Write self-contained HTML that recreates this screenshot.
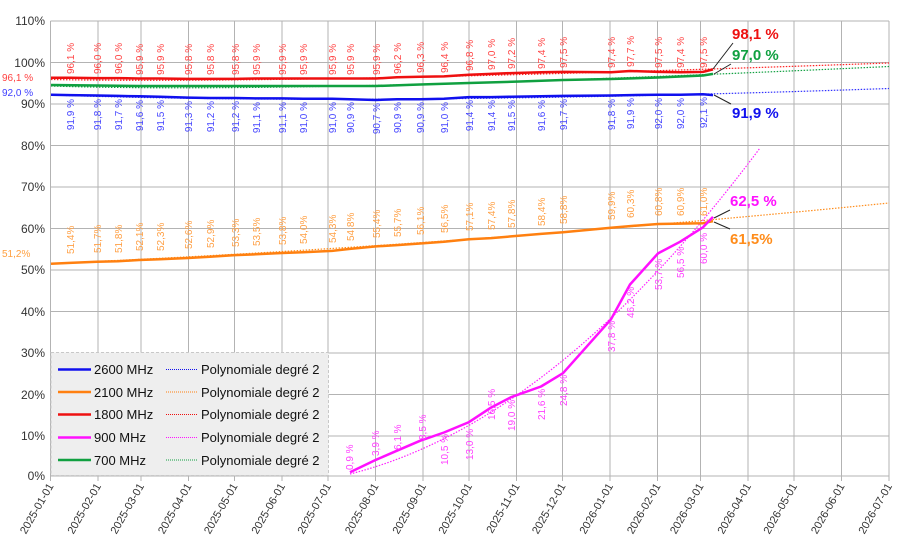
<!DOCTYPE html>
<html><head><meta charset="utf-8"><style>
body{margin:0;background:#fff}
svg{display:block;font-family:"Liberation Sans",sans-serif}
</style></head><body>
<svg width="914" height="547" viewBox="0 0 914 547" xmlns="http://www.w3.org/2000/svg">
<rect width="914" height="547" fill="#fff"/>
<!-- grid -->
<g stroke="#b3b3b3" stroke-width="1">
<line x1="50.5" y1="21" x2="889" y2="21"/><line x1="50.5" y1="62.5" x2="889" y2="62.5"/><line x1="50.5" y1="104" x2="889" y2="104"/><line x1="50.5" y1="145.5" x2="889" y2="145.5"/><line x1="50.5" y1="187" x2="889" y2="187"/><line x1="50.5" y1="228.5" x2="889" y2="228.5"/><line x1="50.5" y1="270" x2="889" y2="270"/><line x1="50.5" y1="311.5" x2="889" y2="311.5"/><line x1="50.5" y1="353" x2="889" y2="353"/><line x1="50.5" y1="394.5" x2="889" y2="394.5"/><line x1="50.5" y1="436" x2="889" y2="436"/><line x1="50.5" y1="476" x2="889" y2="476"/>
<line x1="50.5" y1="21" x2="50.5" y2="481"/><line x1="98" y1="21" x2="98" y2="481"/><line x1="141" y1="21" x2="141" y2="481"/><line x1="188.5" y1="21" x2="188.5" y2="481"/><line x1="234.5" y1="21" x2="234.5" y2="481"/><line x1="282" y1="21" x2="282" y2="481"/><line x1="328" y1="21" x2="328" y2="481"/><line x1="375.5" y1="21" x2="375.5" y2="481"/><line x1="423" y1="21" x2="423" y2="481"/><line x1="469" y1="21" x2="469" y2="481"/><line x1="516.5" y1="21" x2="516.5" y2="481"/><line x1="562.5" y1="21" x2="562.5" y2="481"/><line x1="610" y1="21" x2="610" y2="481"/><line x1="657.5" y1="21" x2="657.5" y2="481"/><line x1="700.5" y1="21" x2="700.5" y2="481"/><line x1="748" y1="21" x2="748" y2="481"/><line x1="794" y1="21" x2="794" y2="481"/><line x1="841.5" y1="21" x2="841.5" y2="481"/><line x1="889" y1="21" x2="889" y2="481"/>
</g>
<!-- y labels -->
<g font-size="12" fill="#333" text-anchor="end">
<text x="45" y="25">110%</text><text x="45" y="67">100%</text><text x="45" y="108">90%</text><text x="45" y="150">80%</text><text x="45" y="191">70%</text><text x="45" y="233">60%</text><text x="45" y="274">50%</text><text x="45" y="316">40%</text><text x="45" y="357">30%</text><text x="45" y="399">20%</text><text x="45" y="440">10%</text><text x="45" y="480">0%</text>
</g>
<!-- x labels -->
<g font-size="11" fill="#333" text-anchor="end">
<text transform="translate(54,486) rotate(-60)">2025-01-01</text>
<text transform="translate(101.5,486) rotate(-60)">2025-02-01</text>
<text transform="translate(144.5,486) rotate(-60)">2025-03-01</text>
<text transform="translate(192,486) rotate(-60)">2025-04-01</text>
<text transform="translate(238,486) rotate(-60)">2025-05-01</text>
<text transform="translate(285.5,486) rotate(-60)">2025-06-01</text>
<text transform="translate(331.5,486) rotate(-60)">2025-07-01</text>
<text transform="translate(379,486) rotate(-60)">2025-08-01</text>
<text transform="translate(426.5,486) rotate(-60)">2025-09-01</text>
<text transform="translate(472.5,486) rotate(-60)">2025-10-01</text>
<text transform="translate(520,486) rotate(-60)">2025-11-01</text>
<text transform="translate(566,486) rotate(-60)">2025-12-01</text>
<text transform="translate(613.5,486) rotate(-60)">2026-01-01</text>
<text transform="translate(661,486) rotate(-60)">2026-02-01</text>
<text transform="translate(704,486) rotate(-60)">2026-03-01</text>
<text transform="translate(751.5,486) rotate(-60)">2026-04-01</text>
<text transform="translate(797.5,486) rotate(-60)">2026-05-01</text>
<text transform="translate(845,486) rotate(-60)">2026-06-01</text>
<text transform="translate(892.5,486) rotate(-60)">2026-07-01</text>
</g>
<!-- trend lines -->
<g fill="none" stroke-width="1.2" stroke-dasharray="1.5 1.5">
<path d="M51,95 Q380,106 889,88.5" stroke="#3030ff"/>
<path d="M51,79.5 Q300,84 889,63" stroke="#ff2020"/>
<path d="M51,86 Q300,94 889,66.5" stroke="#10a040"/>
<path d="M51,263.5 Q470,245 889,203" stroke="#ff8c1a"/>
<path d="M350,474 Q555,422.4 760,148" stroke="#ff20ff"/>
</g>
<!-- series -->
<g fill="none" stroke-width="2.5" stroke-linejoin="round">
<polyline stroke="#1010ee" points="51,94.7 70,95.1 97,95.5 118,95.9 139,96.3 160,96.7 188,97.6 210,98 235,98 256,98.4 282,98.4 303,98.8 332,98.8 350,99.2 376,100 397,99.2 420,99.2 444,98.8 469,97.1 491,97.1 511,96.7 541,96.3 563,95.9 611,95.5 630,95.1 658,94.7 680,94.7 703,94.2 713,95.1"/>
<polyline stroke="#ee1010" points="51,77.7 70,77.7 97,78.1 118,78.1 139,78.5 160,78.5 188,78.9 210,78.9 235,78.9 256,78.5 282,78.5 303,78.5 332,78.5 350,78.5 376,78.5 397,77.3 420,76.8 444,76.4 469,74.8 491,73.9 511,73.1 541,72.3 563,71.9 611,72.3 630,71 658,71.9 680,72.3 703,71.9 713,69.4"/>
<polyline stroke="#10a040" points="51,85 97,85.5 139,86 330,86 376,86 420,84.5 469,83 520,81.5 563,80 611,79 658,77.5 703,75.5 713,73.9"/>
<polyline stroke="#ff8010" points="51,263.8 70,262.9 97,261.7 118,261.3 139,260 160,259.2 188,258 210,256.7 235,255.1 256,254.3 282,253 303,252.2 332,250.9 350,248.9 376,246.4 397,245.1 420,243.5 444,241.8 469,239.3 491,238.1 511,236.4 541,233.9 563,232.3 611,227.7 630,226.1 658,224 680,223.6 703,223.2 713,221.1"/>
<polyline stroke="#ff10ff" points="350,472.3 376,459.8 397,450.7 420,440.8 444,432.5 469,422.1 491,407.6 511,397.2 541,386.5 563,373.2 611,319.3 630,284.5 658,253.4 680,241.8 703,227.3 713,216.9"/>
</g>
<!-- callouts -->
<g stroke="#222" stroke-width="1">
<line x1="713" y1="69" x2="733" y2="43"/><line x1="714" y1="74" x2="731" y2="64"/><line x1="714" y1="95" x2="731" y2="104"/><line x1="714" y1="218" x2="730" y2="210"/><line x1="714" y1="222" x2="730" y2="229"/>
</g>
<g font-size="15" font-weight="bold">
<text x="732" y="39" fill="#ee1010">98,1 %</text>
<text x="732" y="60" fill="#10a040">97,0 %</text>
<text x="732" y="118" fill="#1010ee">91,9 %</text>
<text x="730" y="206" fill="#ff10ff">62,5 %</text>
<text x="730" y="244" fill="#ff8c1a">61,5%</text>
</g>
<g font-size="10">
<text x="2" y="81" fill="#ff4040">96,1 %</text>
<text x="2" y="96" fill="#4040ff">92,0 %</text>
<text x="2" y="257" fill="#ffa040">51,2%</text>
</g>
<!-- red labels -->
<g font-size="10" fill="#ff4545">
<text transform="translate(74,74) rotate(-90)">96,1 %</text>
<text transform="translate(101,74) rotate(-90)">96,0 %</text>
<text transform="translate(122,74) rotate(-90)">96,0 %</text>
<text transform="translate(143,75) rotate(-90)">95,9 %</text>
<text transform="translate(164,75) rotate(-90)">95,9 %</text>
<text transform="translate(192,75) rotate(-90)">95,8 %</text>
<text transform="translate(214,75) rotate(-90)">95,8 %</text>
<text transform="translate(239,75) rotate(-90)">95,8 %</text>
<text transform="translate(260,75) rotate(-90)">95,9 %</text>
<text transform="translate(286,75) rotate(-90)">95,9 %</text>
<text transform="translate(307,75) rotate(-90)">95,9 %</text>
<text transform="translate(336,75) rotate(-90)">95,9 %</text>
<text transform="translate(354,75) rotate(-90)">95,9 %</text>
<text transform="translate(380,75) rotate(-90)">95,9 %</text>
<text transform="translate(401,74) rotate(-90)">96,2 %</text>
<text transform="translate(424,73) rotate(-90)">96,3 %</text>
<text transform="translate(448,73) rotate(-90)">96,4 %</text>
<text transform="translate(473,71) rotate(-90)">96,8 %</text>
<text transform="translate(495,70) rotate(-90)">97,0 %</text>
<text transform="translate(515,69) rotate(-90)">97,2 %</text>
<text transform="translate(545,69) rotate(-90)">97,4 %</text>
<text transform="translate(567,68) rotate(-90)">97,5 %</text>
<text transform="translate(615,68) rotate(-90)">97,4 %</text>
<text transform="translate(634,67) rotate(-90)">97,7 %</text>
<text transform="translate(662,68) rotate(-90)">97,5 %</text>
<text transform="translate(684,68) rotate(-90)">97,4 %</text>
<text transform="translate(707,68) rotate(-90)">97,5 %</text>
</g>
<!-- blue labels -->
<g font-size="10" fill="#4545ff" text-anchor="end">
<text transform="translate(74,99) rotate(-90)">91,9 %</text>
<text transform="translate(101,99) rotate(-90)">91,8 %</text>
<text transform="translate(122,99) rotate(-90)">91,7 %</text>
<text transform="translate(143,100) rotate(-90)">91,6 %</text>
<text transform="translate(164,100) rotate(-90)">91,5 %</text>
<text transform="translate(192,101) rotate(-90)">91,3 %</text>
<text transform="translate(214,101) rotate(-90)">91,2 %</text>
<text transform="translate(239,101) rotate(-90)">91,2 %</text>
<text transform="translate(260,102) rotate(-90)">91,1 %</text>
<text transform="translate(286,102) rotate(-90)">91,1 %</text>
<text transform="translate(307,102) rotate(-90)">91,0 %</text>
<text transform="translate(336,102) rotate(-90)">91,0 %</text>
<text transform="translate(354,102) rotate(-90)">90,9 %</text>
<text transform="translate(380,103) rotate(-90)">90,7 %</text>
<text transform="translate(401,102) rotate(-90)">90,9 %</text>
<text transform="translate(424,102) rotate(-90)">90,9 %</text>
<text transform="translate(448,102) rotate(-90)">91,0 %</text>
<text transform="translate(473,100) rotate(-90)">91,4 %</text>
<text transform="translate(495,100) rotate(-90)">91,4 %</text>
<text transform="translate(515,100) rotate(-90)">91,5 %</text>
<text transform="translate(545,100) rotate(-90)">91,6 %</text>
<text transform="translate(567,99) rotate(-90)">91,7 %</text>
<text transform="translate(615,99) rotate(-90)">91,8 %</text>
<text transform="translate(634,98) rotate(-90)">91,9 %</text>
<text transform="translate(662,98) rotate(-90)">92,0 %</text>
<text transform="translate(684,98) rotate(-90)">92,0 %</text>
<text transform="translate(707,97) rotate(-90)">92,1 %</text>
</g>
<!-- orange labels -->
<g font-size="10" fill="#ffa045">
<text transform="translate(74,254) rotate(-90)">51,4%</text>
<text transform="translate(101,253) rotate(-90)">51,7%</text>
<text transform="translate(122,253) rotate(-90)">51,8%</text>
<text transform="translate(143,251) rotate(-90)">52,1%</text>
<text transform="translate(164,251) rotate(-90)">52,3%</text>
<text transform="translate(192,249) rotate(-90)">52,6%</text>
<text transform="translate(214,248) rotate(-90)">52,9%</text>
<text transform="translate(239,247) rotate(-90)">53,3%</text>
<text transform="translate(260,246) rotate(-90)">53,5%</text>
<text transform="translate(286,245) rotate(-90)">53,8%</text>
<text transform="translate(307,244) rotate(-90)">54,0%</text>
<text transform="translate(336,243) rotate(-90)">54,3%</text>
<text transform="translate(354,241) rotate(-90)">54,8%</text>
<text transform="translate(380,238) rotate(-90)">55,4%</text>
<text transform="translate(401,237) rotate(-90)">55,7%</text>
<text transform="translate(424,235) rotate(-90)">56,1%</text>
<text transform="translate(448,233) rotate(-90)">56,5%</text>
<text transform="translate(473,231) rotate(-90)">57,1%</text>
<text transform="translate(495,230) rotate(-90)">57,4%</text>
<text transform="translate(515,228) rotate(-90)">57,8%</text>
<text transform="translate(545,226) rotate(-90)">58,4%</text>
<text transform="translate(567,224) rotate(-90)">58,8%</text>
<text transform="translate(615,220) rotate(-90)">59,9%</text>
<text transform="translate(634,218) rotate(-90)">60,3%</text>
<text transform="translate(662,216) rotate(-90)">60,8%</text>
<text transform="translate(684,216) rotate(-90)">60,9%</text>
<text transform="translate(707,216) rotate(-90)">61,0%</text>
</g>
<!-- magenta labels -->
<g font-size="10" fill="#ff40ff">
<text transform="translate(353,470) rotate(-90)">0,9 %</text>
<text transform="translate(379,456) rotate(-90)">3,9 %</text>
<text transform="translate(401,450) rotate(-90)">6,1 %</text>
<text transform="translate(426,440) rotate(-90)">8,5 %</text>
<text transform="translate(448,465) rotate(-90)">10,5 %</text>
<text transform="translate(473,460) rotate(-90)">13,0 %</text>
<text transform="translate(495,420) rotate(-90)">16,5 %</text>
<text transform="translate(515,431) rotate(-90)">19,0 %</text>
<text transform="translate(545,420) rotate(-90)">21,6 %</text>
<text transform="translate(567,406) rotate(-90)">24,8 %</text>
<text transform="translate(615,352) rotate(-90)">37,8 %</text>
<text transform="translate(634,318) rotate(-90)">46,2 %</text>
<text transform="translate(662,290) rotate(-90)">53,7 %</text>
<text transform="translate(684,278) rotate(-90)">56,5 %</text>
<text transform="translate(707,264) rotate(-90)">60,0 %</text>
</g>
<!-- legend -->
<rect x="51" y="352.5" width="277.5" height="123" fill="#eeeeee" stroke="#c8c8c8" stroke-dasharray="3 2"/>
<g stroke-width="2.5">
<line x1="58" y1="369.5" x2="91" y2="369.5" stroke="#1010ee"/>
<line x1="58" y1="392" x2="91" y2="392" stroke="#ff8010"/>
<line x1="58" y1="414.5" x2="91" y2="414.5" stroke="#ee1010"/>
<line x1="58" y1="437.5" x2="91" y2="437.5" stroke="#ff10ff"/>
<line x1="58" y1="460" x2="91" y2="460" stroke="#10a040"/>
</g>
<g stroke-width="1" stroke-dasharray="1 1">
<line x1="166" y1="369.5" x2="197" y2="369.5" stroke="#1010ee"/>
<line x1="166" y1="392" x2="197" y2="392" stroke="#ff8010"/>
<line x1="166" y1="414.5" x2="197" y2="414.5" stroke="#ee1010"/>
<line x1="166" y1="437.5" x2="197" y2="437.5" stroke="#ff10ff"/>
<line x1="166" y1="460" x2="197" y2="460" stroke="#10a040"/>
</g>
<g font-size="13" fill="#111">
<text x="94" y="374">2600 MHz</text><text x="94" y="397">2100 MHz</text><text x="94" y="419">1800 MHz</text><text x="94" y="442">900 MHz</text><text x="94" y="465">700 MHz</text>
<text x="201" y="374">Polynomiale degré 2</text><text x="201" y="397">Polynomiale degré 2</text><text x="201" y="419">Polynomiale degré 2</text><text x="201" y="442">Polynomiale degré 2</text><text x="201" y="465">Polynomiale degré 2</text>
</g>
</svg>
</body></html>
